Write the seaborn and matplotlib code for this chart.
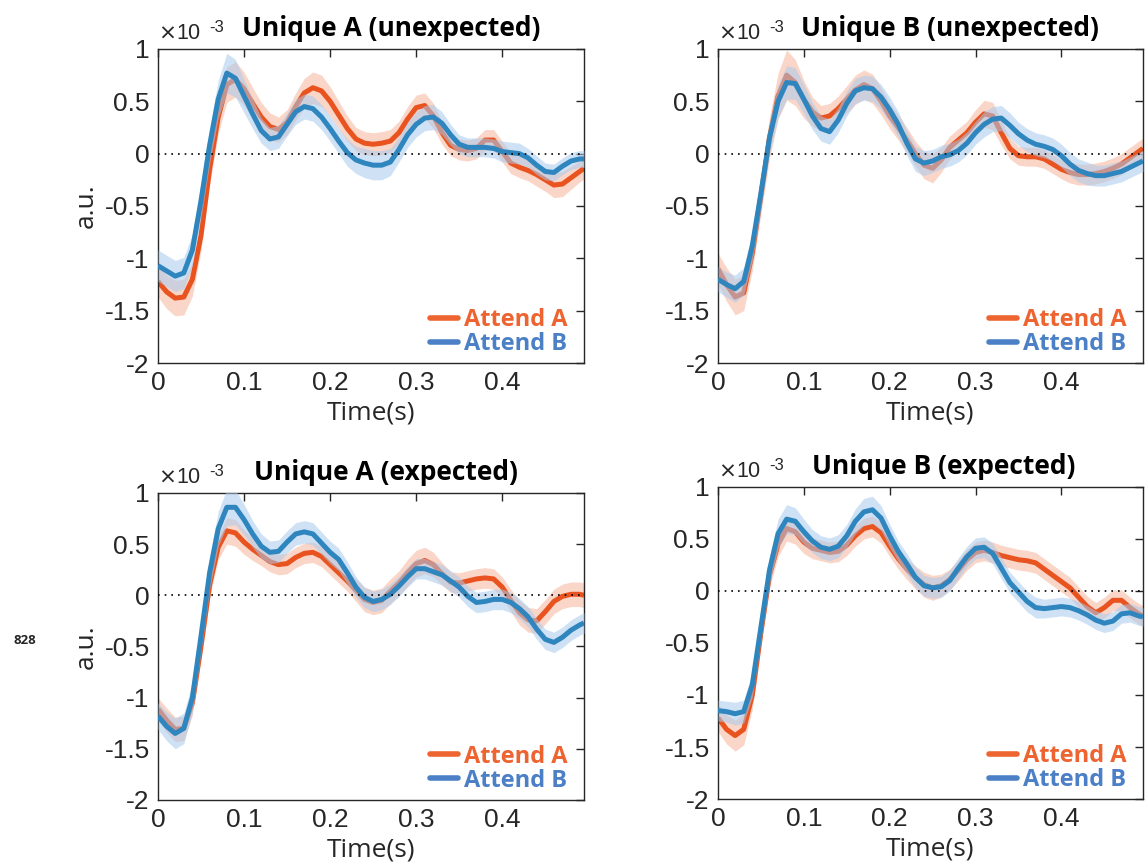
import numpy as np
import pandas as pd
import matplotlib
matplotlib.use("Agg")
import matplotlib.pyplot as plt
import seaborn as sns
from matplotlib.lines import Line2D
from matplotlib.ticker import FixedLocator, FuncFormatter
from matplotlib import font_manager

# ---------------- data (values in units of 1e-3 a.u.) ----------------
time_s = [round(0.01 * i, 3) for i in range(50)] + [0.495]

tl_attend_a = [-1.22, -1.32, -1.38, -1.37, -1.20, -0.78, -0.15, 0.35, 0.66, 0.71,
               0.62, 0.48, 0.35, 0.26, 0.23, 0.30, 0.45, 0.58, 0.63, 0.60,
               0.50, 0.37, 0.24, 0.14, 0.10, 0.09, 0.10, 0.12, 0.20, 0.33,
               0.44, 0.46, 0.36, 0.20, 0.08, 0.04, 0.03, 0.05, 0.13, 0.13,
               0.02, -0.09, -0.13, -0.16, -0.20, -0.25, -0.30, -0.29, -0.23, -0.17,
               -0.14]
tl_attend_b = [-1.07, -1.12, -1.17, -1.14, -0.92, -0.45, 0.08, 0.52, 0.77, 0.72,
               0.55, 0.38, 0.22, 0.14, 0.16, 0.28, 0.40, 0.45, 0.43, 0.35,
               0.24, 0.12, 0.01, -0.06, -0.09, -0.11, -0.11, -0.08, 0.04, 0.18,
               0.28, 0.34, 0.35, 0.29, 0.18, 0.09, 0.06, 0.06, 0.06, 0.05,
               0.02, 0.01, 0.00, -0.04, -0.11, -0.17, -0.18, -0.12, -0.07, -0.05,
               -0.05]
tr_attend_a = [-1.10, -1.25, -1.37, -1.33, -0.95, -0.40, 0.15, 0.55, 0.75, 0.68,
               0.52, 0.40, 0.34, 0.36, 0.43, 0.52, 0.61, 0.66, 0.62, 0.50,
               0.36, 0.25, 0.13, 0.00, -0.11, -0.14, -0.06, 0.06, 0.13, 0.20,
               0.30, 0.38, 0.36, 0.20, 0.05, -0.02, -0.03, -0.03, -0.05, -0.10,
               -0.15, -0.18, -0.20, -0.20, -0.19, -0.17, -0.14, -0.10, -0.04, 0.02,
               0.05]
tr_attend_b = [-1.20, -1.25, -1.29, -1.22, -0.88, -0.38, 0.15, 0.50, 0.68, 0.67,
               0.52, 0.36, 0.24, 0.21, 0.32, 0.48, 0.60, 0.63, 0.62, 0.54,
               0.42, 0.28, 0.10, -0.05, -0.09, -0.07, -0.03, -0.01, 0.03, 0.10,
               0.20, 0.28, 0.33, 0.34, 0.27, 0.19, 0.13, 0.09, 0.07, 0.04,
               -0.02, -0.10, -0.16, -0.19, -0.21, -0.21, -0.19, -0.17, -0.13, -0.09,
               -0.07]
bl_attend_a = [-1.11, -1.22, -1.31, -1.30, -1.05, -0.50, 0.10, 0.47, 0.63, 0.61,
               0.52, 0.45, 0.39, 0.33, 0.30, 0.31, 0.37, 0.41, 0.42, 0.38,
               0.30, 0.22, 0.14, 0.05, -0.04, -0.07, -0.05, 0.04, 0.12, 0.22,
               0.31, 0.34, 0.30, 0.21, 0.13, 0.12, 0.14, 0.16, 0.17, 0.16,
               0.08, -0.05, -0.17, -0.24, -0.25, -0.16, -0.06, -0.01, 0.01, 0.01,
               0.00]
bl_attend_b = [-1.18, -1.28, -1.35, -1.30, -1.00, -0.40, 0.22, 0.65, 0.86, 0.86,
               0.74, 0.60, 0.48, 0.42, 0.43, 0.52, 0.60, 0.62, 0.60, 0.51,
               0.42, 0.35, 0.22, 0.08, -0.02, -0.06, -0.04, 0.01, 0.09, 0.18,
               0.26, 0.26, 0.23, 0.20, 0.14, 0.08, -0.01, -0.07, -0.06, -0.04,
               -0.04, -0.07, -0.13, -0.21, -0.33, -0.43, -0.46, -0.41, -0.34, -0.29,
               -0.27]
br_attend_a = [-1.22, -1.33, -1.39, -1.33, -1.00, -0.40, 0.15, 0.45, 0.60, 0.57,
               0.47, 0.41, 0.39, 0.37, 0.38, 0.44, 0.53, 0.60, 0.62, 0.56,
               0.43, 0.31, 0.21, 0.13, 0.06, 0.03, 0.05, 0.11, 0.20, 0.30,
               0.37, 0.39, 0.37, 0.34, 0.32, 0.30, 0.29, 0.27, 0.21, 0.15,
               0.09, 0.03, -0.06, -0.15, -0.21, -0.16, -0.09, -0.09, -0.16, -0.22,
               -0.24]
br_attend_b = [-1.15, -1.16, -1.18, -1.16, -0.90, -0.35, 0.20, 0.55, 0.69, 0.67,
               0.57, 0.48, 0.42, 0.40, 0.43, 0.53, 0.67, 0.76, 0.78, 0.70,
               0.53, 0.38, 0.26, 0.13, 0.05, 0.03, 0.04, 0.10, 0.22, 0.33,
               0.41, 0.42, 0.36, 0.22, 0.08, -0.01, -0.10, -0.16, -0.17, -0.16,
               -0.15, -0.16, -0.19, -0.23, -0.28, -0.31, -0.29, -0.22, -0.21, -0.24,
               -0.25]

# standard-error half widths of the shaded bands
tl_sem_a = [0.15, 0.16, 0.17, 0.17, 0.16, 0.15, 0.15, 0.16, 0.17, 0.17,
            0.16, 0.15, 0.14, 0.13, 0.12, 0.12, 0.13, 0.14, 0.15, 0.15,
            0.14, 0.13, 0.12, 0.11, 0.11, 0.11, 0.11, 0.11, 0.11, 0.12,
            0.12, 0.12, 0.12, 0.11, 0.10, 0.10, 0.10, 0.10, 0.10, 0.10,
            0.10, 0.10, 0.10, 0.10, 0.11, 0.11, 0.12, 0.12, 0.11, 0.10,
            0.10]
tl_sem_b = [0.15, 0.15, 0.15, 0.15, 0.15, 0.16, 0.17, 0.18, 0.19, 0.18,
            0.16, 0.14, 0.12, 0.11, 0.11, 0.11, 0.12, 0.12, 0.12, 0.12,
            0.12, 0.12, 0.13, 0.13, 0.14, 0.14, 0.14, 0.13, 0.12, 0.12,
            0.12, 0.12, 0.12, 0.11, 0.10, 0.09, 0.09, 0.09, 0.09, 0.09,
            0.10, 0.10, 0.10, 0.09, 0.09, 0.08, 0.08, 0.08, 0.08, 0.08,
            0.08]
tr_sem_a = [0.15, 0.16, 0.17, 0.17, 0.17, 0.18, 0.20, 0.22, 0.24, 0.22,
            0.18, 0.14, 0.12, 0.12, 0.12, 0.13, 0.14, 0.14, 0.14, 0.13,
            0.12, 0.12, 0.12, 0.12, 0.13, 0.14, 0.12, 0.11, 0.11, 0.11,
            0.12, 0.13, 0.13, 0.12, 0.10, 0.09, 0.09, 0.09, 0.09, 0.09,
            0.09, 0.10, 0.10, 0.10, 0.10, 0.10, 0.10, 0.10, 0.10, 0.10,
            0.10]
tr_sem_b = [0.12, 0.12, 0.13, 0.13, 0.14, 0.14, 0.15, 0.16, 0.16, 0.15,
            0.14, 0.13, 0.12, 0.12, 0.12, 0.12, 0.12, 0.12, 0.12, 0.12,
            0.12, 0.12, 0.12, 0.12, 0.12, 0.11, 0.11, 0.11, 0.11, 0.11,
            0.11, 0.12, 0.12, 0.12, 0.12, 0.11, 0.11, 0.11, 0.11, 0.11,
            0.11, 0.11, 0.11, 0.11, 0.10, 0.10, 0.10, 0.10, 0.10, 0.10,
            0.10]
bl_sem_a = [0.11, 0.12, 0.12, 0.12, 0.12, 0.12, 0.12, 0.12, 0.13, 0.13,
            0.12, 0.11, 0.10, 0.10, 0.10, 0.10, 0.10, 0.10, 0.10, 0.10,
            0.10, 0.10, 0.10, 0.11, 0.12, 0.12, 0.12, 0.12, 0.12, 0.13,
            0.13, 0.13, 0.12, 0.11, 0.10, 0.10, 0.10, 0.10, 0.10, 0.10,
            0.10, 0.11, 0.12, 0.12, 0.12, 0.12, 0.12, 0.12, 0.12, 0.12,
            0.12]
bl_sem_b = [0.13, 0.14, 0.15, 0.15, 0.15, 0.15, 0.16, 0.17, 0.18, 0.17,
            0.15, 0.13, 0.12, 0.11, 0.11, 0.11, 0.11, 0.11, 0.11, 0.11,
            0.11, 0.11, 0.11, 0.10, 0.10, 0.10, 0.10, 0.10, 0.10, 0.10,
            0.10, 0.10, 0.10, 0.10, 0.10, 0.10, 0.10, 0.10, 0.10, 0.10,
            0.10, 0.10, 0.10, 0.10, 0.10, 0.10, 0.10, 0.10, 0.10, 0.10,
            0.10]
br_sem_a = [0.13, 0.14, 0.15, 0.15, 0.14, 0.13, 0.12, 0.12, 0.12, 0.12,
            0.11, 0.10, 0.10, 0.10, 0.10, 0.10, 0.10, 0.10, 0.10, 0.10,
            0.10, 0.10, 0.10, 0.11, 0.12, 0.12, 0.11, 0.10, 0.10, 0.10,
            0.10, 0.10, 0.10, 0.10, 0.10, 0.10, 0.10, 0.10, 0.10, 0.10,
            0.10, 0.10, 0.10, 0.10, 0.10, 0.10, 0.10, 0.10, 0.10, 0.10,
            0.10]
br_sem_b = [0.10, 0.10, 0.11, 0.11, 0.12, 0.13, 0.13, 0.14, 0.14, 0.13,
            0.12, 0.11, 0.11, 0.11, 0.11, 0.11, 0.12, 0.13, 0.13, 0.12,
            0.11, 0.10, 0.10, 0.10, 0.10, 0.10, 0.10, 0.10, 0.10, 0.10,
            0.10, 0.10, 0.10, 0.10, 0.10, 0.10, 0.10, 0.10, 0.09, 0.09,
            0.09, 0.09, 0.09, 0.09, 0.09, 0.09, 0.09, 0.09, 0.09, 0.09,
            0.09]

titles = ["Unique A (unexpected)", "Unique B (unexpected)",
          "Unique A (expected)", "Unique B (expected)"]
conditions = ["Attend A", "Attend B"]
y_ticks = [1, 0.5, 0, -0.5, -1, -1.5, -2]
x_ticks = [0, 0.1, 0.2, 0.3, 0.4]

# ---------------- styling ----------------
sns.set_style("white")
plt.rcParams["font.family"] = ["Liberation Sans", "DejaVu Sans"]


def pick_bold_family():
    for fam in ["Open Sans", "Noto Sans", "Lato", "Roboto"]:
        for f in font_manager.fontManager.ttflist:
            if f.name == fam and (f.weight in ("bold", 700) or
                                  (isinstance(f.weight, int) and f.weight >= 700)):
                return fam
    return "DejaVu Sans"


bold_family = [pick_bold_family(), "DejaVu Sans"]
label_font = ["Open Sans", "Noto Sans", "DejaVu Sans"]

line_colors = {"Attend A": "#E9531F", "Attend B": "#2F86BF"}
band_colors = {"Attend A": "#F7B59B", "Attend B": "#A9CBEE"}
legend_colors = {"Attend A": "#EE6430", "Attend B": "#4C80C6"}
tick_color = "#262626"

fig = plt.figure(figsize=(11.48, 8.67), dpi=100)
positions = [
    [0.1376, 0.5813, 0.3711, 0.3622],
    [0.6254, 0.5813, 0.3702, 0.3622],
    [0.1376, 0.0773, 0.3711, 0.3541],
    [0.6254, 0.0784, 0.3702, 0.3600],
]
panel_data = [
    (tl_attend_a, tl_attend_b, tl_sem_a, tl_sem_b),
    (tr_attend_a, tr_attend_b, tr_sem_a, tr_sem_b),
    (bl_attend_a, bl_attend_b, bl_sem_a, bl_sem_b),
    (br_attend_a, br_attend_b, br_sem_a, br_sem_b),
]
title_x = [0.548, 0.545, 0.535, 0.53]

for i, (pos, (ya, yb, sa, sb)) in enumerate(zip(positions, panel_data)):
    ax = fig.add_axes(pos)
    df = pd.DataFrame({
        "time": time_s * 2,
        "value": ya + yb,
        "sem": sa + sb,
        "condition": ["Attend A"] * len(time_s) + ["Attend B"] * len(time_s),
    })
    z = 1
    for cond in conditions:
        sub = df[df["condition"] == cond]
        ax.fill_between(sub["time"], sub["value"] - sub["sem"],
                        sub["value"] + sub["sem"],
                        color=band_colors[cond], alpha=0.55, lw=0, zorder=z)
        sns.lineplot(data=sub, x="time", y="value", color=line_colors[cond],
                     lw=3.6, ax=ax, estimator=None, sort=False, legend=False,
                     zorder=z + 1, solid_joinstyle="round", solid_capstyle="butt")
        z += 2
    ax.axhline(0, color="black", lw=1.2, ls=(0, (1, 3)), zorder=10)

    ax.set_xlim(0, 0.495)
    ax.set_ylim(-2, 1)
    ax.xaxis.set_major_locator(FixedLocator(x_ticks))
    ax.yaxis.set_major_locator(FixedLocator(y_ticks))
    ax.xaxis.set_major_formatter(FuncFormatter(lambda v, p: f"{v:g}"))
    ax.yaxis.set_major_formatter(FuncFormatter(lambda v, p: f"{v:g}"))
    ax.tick_params(direction="in", length=6, width=1, top=True, right=True,
                   labelsize=19, colors=tick_color, pad=6)
    for sp in ax.spines.values():
        sp.set_color(tick_color)
        sp.set_linewidth(1.0)
    ax.set_xlabel("Time(s)", fontsize=19, family=label_font, color=tick_color,
                  labelpad=4)
    if i % 2 == 0:
        ax.set_ylabel("a.u.", fontsize=19, family=label_font, color=tick_color,
                      labelpad=4)
    else:
        ax.set_ylabel("")
    ax.set_title(titles[i], fontsize=19, fontweight="bold", family=bold_family,
                 x=title_x[i], pad=9, color="black")
    ax.text(0.0, 1.015, r"$\times$10", transform=ax.transAxes, fontsize=15.5,
            color=tick_color, ha="left", va="bottom")
    ax.text(0.12, 1.045, "-3", transform=ax.transAxes, fontsize=12,
            color=tick_color, ha="left", va="bottom")

    handles = [Line2D([0], [0], color=legend_colors[c], lw=4) for c in conditions]
    leg = ax.legend(handles, conditions, loc="lower right", frameon=False,
                    prop={"family": bold_family, "weight": "bold", "size": 17},
                    handlelength=1.2, handletextpad=0.25, labelspacing=0.0,
                    borderaxespad=0.3, bbox_to_anchor=(1.0, -0.03))
    for txt, c in zip(leg.get_texts(), conditions):
        txt.set_color(legend_colors[c])

fig.text(0.022, 0.261, "828", fontsize=9.5, fontweight="bold", ha="center",
         va="center", family=bold_family)

fig.savefig("out.png", dpi=100, facecolor="white")
